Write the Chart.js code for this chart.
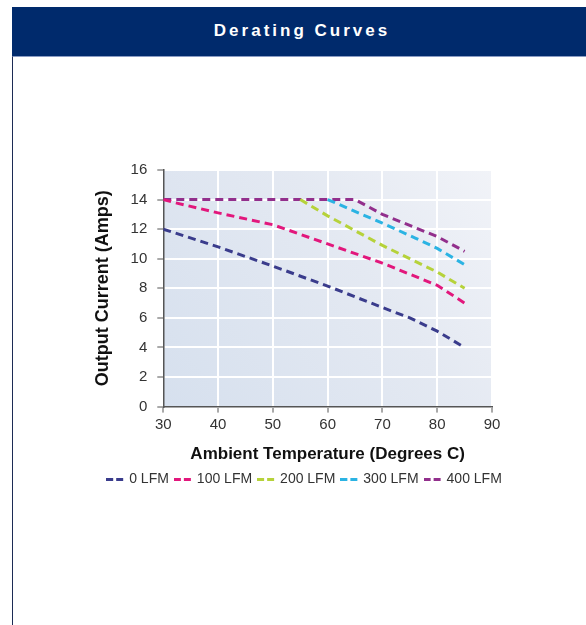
<!DOCTYPE html>
<html lang="en">
<head>
    <meta charset="UTF-8">
    <title>Derating Curves</title>
    <script src="https://cdn.jsdelivr.net/npm/chart.js"></script>
    <style>
        html, body {
            margin: 0;
            padding: 0;
            background: #fff;
            font-family: 'Liberation Sans', Arial, sans-serif;
        }
        #page {
            position: relative;
            width: 586px;
            height: 625px;
            overflow: hidden;
        }
        #header {
            position: absolute;
            left: 12px;
            top: 7px;
            width: 568px;
            padding-left: 6px;
            height: 49px;
            background: #002a6c;
            color: #fff;
            font-weight: bold;
            font-size: 17px;
            letter-spacing: 3px;
            text-align: center;
            line-height: 48px;
        }
        #frame {
            position: absolute;
            left: 12px;
            top: 56px;
            width: 580px;
            height: 580px;
            border-left: 1px solid #1c2b55;
            border-top: 1px solid #8a9cc4;
        }
        #chartBox {
            position: absolute;
            left: 92px;
            top: 151px;
            width: 426px;
            height: 345px;
        }
    </style>
</head>
<body>
<div id="page">
    <div id="header">Derating Curves</div>
    <div id="frame"></div>
    <div id="chartBox"><canvas id="myChart"></canvas></div>
</div>

<script>
    // temperatures (deg C) and output current (A)
    const temps0 = [30, 40, 50, 60, 70, 75, 80, 85];
    const amps0 = [12, 10.8, 9.5, 8.15, 6.7, 6.0, 5.1, 4.0];

    const temps100 = [30, 32, 40, 50, 60, 70, 80, 85];
    const amps100 = [14, 13.8, 13.1, 12.3, 11.0, 9.7, 8.2, 7.0];

    const temps200 = [55, 60, 70, 80, 85];
    const amps200 = [14, 12.9, 10.9, 9.1, 8.0];

    const temps300 = [60, 70, 76, 80, 85];
    const amps300 = [14, 12.4, 11.4, 10.7, 9.6];

    const temps400 = [30, 65, 70, 80, 85];
    const amps400 = [14, 14, 13.0, 11.5, 10.5];

    const seriesNames = ['0 LFM', '100 LFM', '200 LFM', '300 LFM', '400 LFM'];
    const seriesColors = ['#3a3c8c', '#e2177c', '#b6d23a', '#2bb3e3', '#922f8c'];

    const xTicks = [30, 40, 50, 60, 70, 80, 90];
    const yTicks = [0, 2, 4, 6, 8, 10, 12, 14, 16];

    function pairs(xs, ys) {
        return xs.map((x, i) => ({ x: x, y: ys[i] }));
    }

    // small "- -" sample used in the legend
    function legendSample(color) {
        const c = document.createElement('canvas');
        c.width = 18;
        c.height = 3;
        const g = c.getContext('2d');
        g.fillStyle = color;
        g.fillRect(0, 0, 7, 3);
        g.fillRect(10, 0, 7, 3);
        return c;
    }

    const allTemps = [temps0, temps100, temps200, temps300, temps400];
    const allAmps = [amps0, amps100, amps200, amps300, amps400];

    const datasets = seriesNames.map((name, i) => ({
        label: name,
        data: pairs(allTemps[i], allAmps[i]),
        borderColor: seriesColors[i],
        backgroundColor: seriesColors[i],
        borderWidth: 3,
        borderDash: [8, 5],
        pointRadius: 0,
        pointStyle: legendSample(seriesColors[i]),
        tension: 0,
        fill: false
    }));

    // light blue panel behind the plot
    const plotBackground = {
        id: 'plotBackground',
        beforeDraw(chart) {
            const a = chart.chartArea;
            const g = chart.ctx;
            const grad = g.createLinearGradient(a.left, a.bottom, a.right, a.top);
            grad.addColorStop(0, '#d6e0ee');
            grad.addColorStop(0.6, '#e4e9f2');
            grad.addColorStop(1, '#f1f3f8');
            g.save();
            g.fillStyle = grad;
            g.fillRect(a.left, a.top, a.right - a.left, a.bottom - a.top);
            g.restore();
        }
    };

    const fam = "'Liberation Sans', Arial, sans-serif";
    const tickFont = { family: fam, size: 15 };

    const ctx = document.getElementById('myChart').getContext('2d');
    const myChart = new Chart(ctx, {
        type: 'line',
        data: { datasets: datasets },
        plugins: [plotBackground],
        options: {
            responsive: true,
            maintainAspectRatio: false,
            animation: false,
            layout: { padding: { left: 0, right: 0, top: 4, bottom: 0 } },
            plugins: {
                tooltip: { enabled: false },
                legend: {
                    position: 'bottom',
                    labels: {
                        usePointStyle: true,
                        color: '#333',
                        font: { family: fam, size: 14 },
                        padding: 7,
                        boxWidth: 20
                    }
                }
            },
            scales: {
                x: {
                    type: 'linear',
                    min: 30,
                    max: 90,
                    afterBuildTicks(axis) {
                        axis.ticks = xTicks.map(v => ({ value: v }));
                    },
                    grid: {
                        color: '#ffffff',
                        lineWidth: 2,
                        tickColor: '#555',
                        tickLength: 6,
                        tickWidth: 1
                    },
                    border: { color: '#555', width: 1.5 },
                    ticks: { color: '#333', font: tickFont, padding: 3 },
                    title: {
                        display: true,
                        text: 'Ambient Temperature (Degrees C)',
                        color: '#111',
                        font: { family: fam, size: 17, weight: 'bold' },
                        padding: { top: 8, bottom: 0 }
                    }
                },
                y: {
                    min: 0,
                    max: 16,
                    afterBuildTicks(axis) {
                        axis.ticks = yTicks.map(v => ({ value: v }));
                    },
                    grid: {
                        color: '#ffffff',
                        lineWidth: 2,
                        tickColor: '#555',
                        tickLength: 6,
                        tickWidth: 1
                    },
                    border: { color: '#555', width: 1.5 },
                    ticks: { color: '#333', font: tickFont, padding: 10 },
                    title: {
                        display: true,
                        text: 'Output Current (Amps)',
                        color: '#111',
                        font: { family: fam, size: 18, weight: 'bold' },
                        padding: { top: 0, bottom: 7 }
                    }
                },
                // empty right-hand strip so the legend can be wider than the plot
                spacer: {
                    position: 'right',
                    min: 0,
                    max: 16,
                    grid: { display: false },
                    border: { display: false },
                    ticks: { display: false },
                    afterFit(axis) {
                        axis.width = 26;
                    }
                }
            }
        }
    });
</script>
</body>
</html>
